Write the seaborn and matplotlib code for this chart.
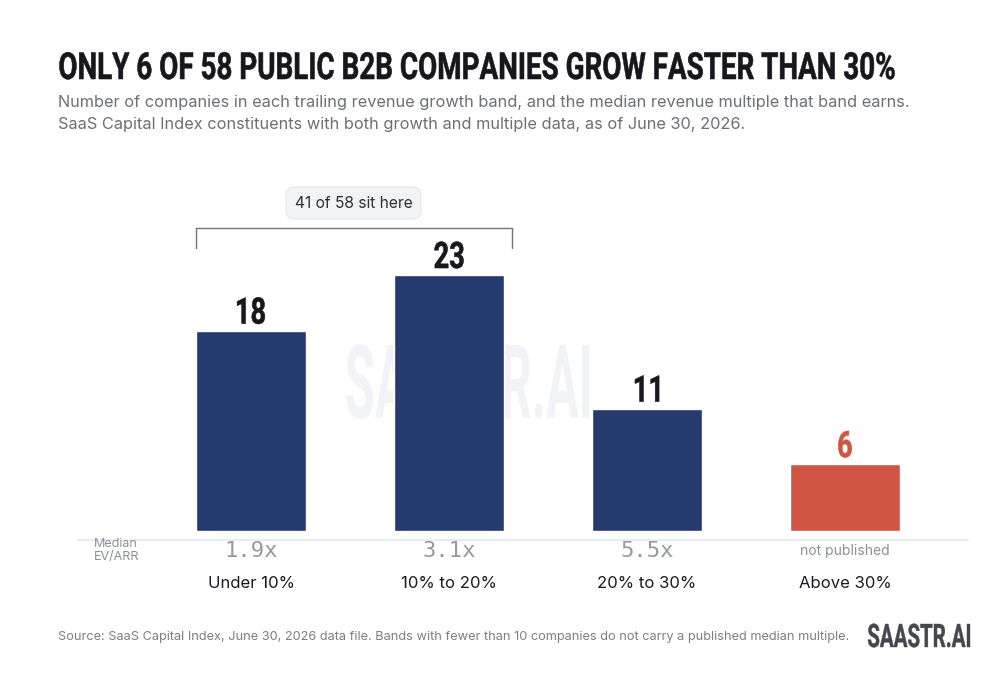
import matplotlib
matplotlib.use("Agg")
import matplotlib.pyplot as plt
import seaborn as sns
from matplotlib.patches import PathPatch
from matplotlib.lines import Line2D
from matplotlib.textpath import TextPath
from matplotlib.font_manager import FontProperties
from matplotlib.transforms import Affine2D

# data
bands = ["Under 10%", "10% to 20%", "20% to 30%", "Above 30%"]
counts = [18, 23, 11, 6]
multiples = ["1.9x", "3.1x", "5.5x", "not published"]
bar_colors = ["#253a6e", "#253a6e", "#253a6e", "#d15545"]
label_colors = ["#17171d", "#17171d", "#17171d", "#d15545"]

sns.set_theme(style="white")
plt.rcParams["font.family"] = ["Inter", "DejaVu Sans"]

W, H = 1000, 699
COND = FontProperties(family=["Roboto", "DejaVu Sans"], weight="bold")
CAP = TextPath((0, 0), "H", size=100, prop=COND).get_extents().height


def squeezed(s, x, top, cap_px, color, squeeze=None, width=None, ha="left", z=3, lw=0.0):
    # poster-style condensed text: glyph outlines scaled to a given cap height
    tp = TextPath((0, 0), s, size=100, prop=COND)
    bb = tp.get_extents()
    sy = cap_px / CAP
    sx = width / bb.width if width else sy * squeeze
    w = bb.width * sx
    x0 = x if ha == "left" else (x - w / 2 if ha == "center" else x - w)
    tr = Affine2D().translate(-bb.x0, 0).scale(sx, sy).translate(x0, H - top - cap_px)
    fig.add_artist(PathPatch(tp, transform=tr, fc=color, ec=color if lw else "none",
                             lw=lw, zorder=z))
    return sx / sy


fig = plt.figure(figsize=(10, 6.99), dpi=100)
fig.patch.set_facecolor("white")

# axes: x px 80..970, y px 531 (baseline) .. 198
ax = fig.add_axes([80 / W, (H - 531) / H, 890 / W, 333 / H])
ax.set_facecolor("none")

sns.barplot(x=bands, y=counts, hue=bands, palette=bar_colors, legend=False,
            width=0.556, saturation=1, ax=ax, zorder=2)
ax.set_xlim(-0.8636, 3.631)
ax.set_ylim(0, 333 / 11.13)
ax.axis("off")

# title sets the condensed ratio used elsewhere
sq = squeezed("ONLY 6 OF 58 PUBLIC B2B COMPANIES GROW FASTER THAN 30%", 59.5, 52.5, 26.5,
              "#16161c", width=835, lw=0.4)

# watermark behind the bars
squeezed("SAASTR.AI", 468, 345, 73, "#f2f3f6", width=243, ha="center", z=-1)

# count labels above bars
for i, (c, col) in enumerate(zip(counts, label_colors)):
    px, py = ax.transData.transform((i, c))
    squeezed(str(c), px, H - py - 7 - 26, 26, col, squeeze=sq, ha="center", lw=0.4)

# baseline rule
fig.add_artist(Line2D([78 / W, 968 / W], [1 - 540 / H, 1 - 540 / H],
                      color="#e4e9f0", lw=1.2))

# median multiples + band labels
for i, (m, b) in enumerate(zip(multiples, bands)):
    xf = ax.transData.transform((i, 0))[0] / W
    if m == "not published":
        fig.text(xf, 1 - 551 / H, m, ha="center", va="center", fontsize=10, color="#8c9097")
    else:
        fig.text(xf, 1 - 551 / H, m, ha="center", va="center", family="DejaVu Sans Mono",
                 fontsize=16, color="#96999f")
    fig.text(xf, 1 - 584 / H, b, ha="center", va="center", fontsize=12, color="#1a1a22")

fig.text(94 / W, 1 - 550.5 / H, "Median\nEV/ARR", ha="left", va="center", fontsize=9,
         color="#8c9097", linespacing=1.1)

# bracket over the first two bands
bx0, bx1 = -0.2803, 1.3157
ax.plot([bx0, bx0, bx1, bx1], [(531 - 248) / 11.13, (531 - 228) / 11.13,
                               (531 - 228) / 11.13, (531 - 248) / 11.13],
        color="#6f7378", lw=1.0, clip_on=False)
ax.text((bx0 + bx1) / 2, (531 - 203) / 11.13, "41 of 58 sit here", ha="center",
        va="center", fontsize=11.2, color="#2d2f34", clip_on=False,
        bbox=dict(boxstyle="round,pad=0.55,rounding_size=0.55", fc="#f2f3f5", ec="#e8eaed"))

# subtitle
fig.text(58 / W, 1 - 102 / H,
         "Number of companies in each trailing revenue growth band, and the median revenue multiple that band earns.",
         fontsize=11.75, color="#6b6f76", ha="left", va="center")
fig.text(58 / W, 1 - 124 / H,
         "SaaS Capital Index constituents with both growth and multiple data, as of June 30, 2026.",
         fontsize=11.75, color="#6b6f76", ha="left", va="center")

# footer
fig.text(58 / W, 1 - 637 / H,
         "Source: SaaS Capital Index, June 30, 2026 data file. Bands with fewer than 10 companies do not carry a published median multiple.",
         fontsize=9.2, color="#7b7f86", ha="left", va="center")
squeezed("SAASTR.AI", 970, 624, 23, "#46474d", width=102, ha="right", lw=0.3)

fig.savefig("out.png", dpi=100, facecolor="white")
